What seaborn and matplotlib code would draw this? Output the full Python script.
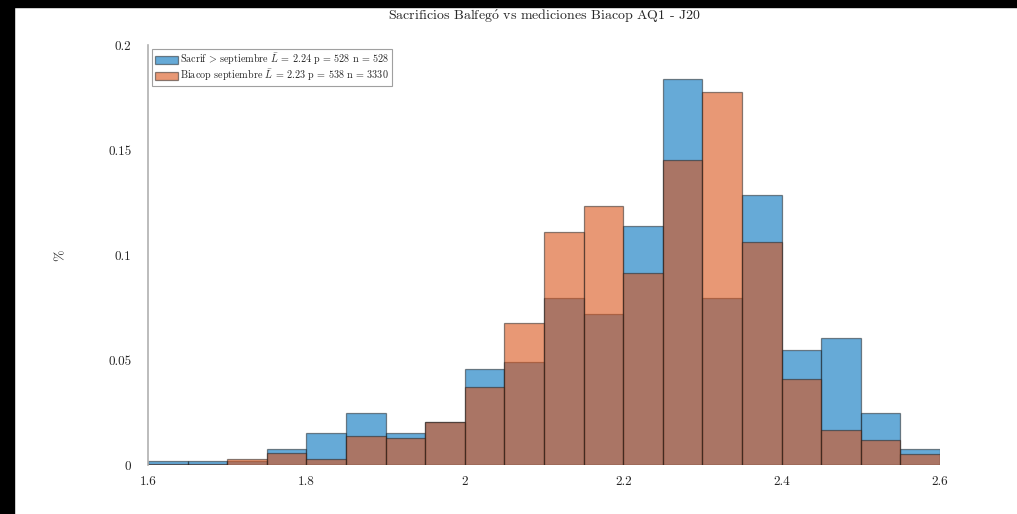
import numpy as np
import matplotlib
matplotlib.use("Agg")
import matplotlib.pyplot as plt
import seaborn as sns
from matplotlib.patches import Rectangle

# bin centres (width 0.05) and probability per bin
centers = [1.625, 1.675, 1.725, 1.775, 1.825, 1.875, 1.925, 1.975, 2.025, 2.075,
           2.125, 2.175, 2.225, 2.275, 2.325, 2.375, 2.425, 2.475, 2.525, 2.575]
sacrif = [0.0019, 0.0019, 0.0019, 0.0076, 0.0152, 0.0246, 0.0152, 0.0206, 0.0455, 0.0492,
          0.0795, 0.0720, 0.1136, 0.1837, 0.0795, 0.1288, 0.0549, 0.0606, 0.0246, 0.0076]
biacop = [0.0006, 0.0006, 0.0030, 0.0056, 0.0027, 0.0138, 0.0129, 0.0207, 0.0373, 0.0676,
          0.1108, 0.1234, 0.0914, 0.1453, 0.1776, 0.1060, 0.0408, 0.0168, 0.0120, 0.0052]

lab_sacrif = r"Sacrif$\,{>}\,$septiembre $\bar{L}$ = 2.24 p = 528 n = 528"
lab_biacop = r"Biacop septiembre $\bar{L}$ = 2.23 p = 538 n = 3330"
titulo = r"Sacrificios Balfeg$\acute{\rm o}$ vs mediciones Biacop AQ1 - J20"

sns.set_style("white")
plt.rcParams['font.family'] = ['cmr10', 'DejaVu Serif']
plt.rcParams['mathtext.fontset'] = 'cm'
plt.rcParams['axes.formatter.use_mathtext'] = True
plt.rcParams['axes.unicode_minus'] = False

fig = plt.figure(figsize=(10.17, 5.14), dpi=100)
ax = fig.add_axes([148 / 1017, 1 - 465 / 514, 792 / 1017, 420 / 514])

blue = (0, 0.447, 0.741)
orange = (0.85, 0.325, 0.098)
edge = (0.1, 0.1, 0.1, 0.5)

sns.histplot(x=np.array(centers), weights=np.array(sacrif), binwidth=0.05, binrange=(1.6, 2.6),
             color=blue, alpha=0.6, edgecolor=edge, linewidth=0.9, ax=ax, label=lab_sacrif)
sns.histplot(x=np.array(centers), weights=np.array(biacop), binwidth=0.05, binrange=(1.6, 2.6),
             color=orange, alpha=0.6, edgecolor=edge, linewidth=0.9, ax=ax, label=lab_biacop)

ax.set_xlim(1.6, 2.6)
ax.set_ylim(0, 0.2)
ax.set_xticks([1.6, 1.8, 2.0, 2.2, 2.4, 2.6])
ax.set_xticklabels(["1.6", "1.8", "2", "2.2", "2.4", "2.6"])
ax.set_yticks([0, 0.05, 0.1, 0.15, 0.2])
ax.set_yticklabels(["0", "0.05", "0.1", "0.15", "0.2"])
ax.tick_params(axis='both', direction='in', length=3, color='#999999', labelsize=9.5, pad=12)
ax.tick_params(axis='x', length=0, pad=8)
for s in ['top', 'right', 'bottom']:
    ax.spines[s].set_visible(False)
ax.spines['left'].set_color('#b0b0b0')
ax.spines['left'].set_linewidth(1.2)

ax.set_xlabel("")
ax.set_ylabel("%", fontsize=10, labelpad=30)
ax.set_title(titulo, fontsize=10, pad=18)

leg = ax.legend(loc='upper left', fontsize=7.3, frameon=True, fancybox=False,
                handlelength=2.3, handleheight=0.9, borderpad=0.25, labelspacing=0.05,
                handletextpad=0.25, borderaxespad=0.4)
leg.get_frame().set_edgecolor('#888888')
leg.get_frame().set_linewidth(0.8)

# black borders present in the screenshot
fig.patches.append(Rectangle((0, 0), 14 / 1017, 1, transform=fig.transFigure,
                             color='black', zorder=10))
fig.patches.append(Rectangle((0, 1 - 7 / 514), 1, 7 / 514, transform=fig.transFigure,
                             color='black', zorder=10))

fig.savefig("out.png", dpi=100)
